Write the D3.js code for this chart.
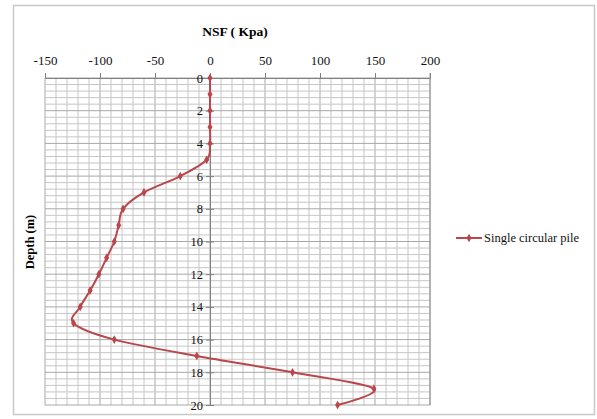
<!DOCTYPE html>
<html><head><meta charset="utf-8">
<script src="https://cdn.jsdelivr.net/npm/d3@7/dist/d3.min.js"></script>
<style>body{margin:0;background:#fff}svg{display:block}</style>
</head><body>
<script>
const depths = [0,1,2,3,4,5,6,7,8,9,10,11,12,13,14,15,16,17,18,19,20];
const nsf = [0,0,0,0,0,-3,-27,-60,-79,-83,-87,-94,-101,-109,-118,-124,-87,-12,75,149,116];
const xTicks = [-150,-100,-50,0,50,100,150,200];
const yTicks = [0,2,4,6,8,10,12,14,16,18,20];
const seriesName = "Single circular pile";

const W = 597, H = 419;
const svg = d3.select("body").append("svg").attr("width", W).attr("height", H);
const font = "Liberation Serif, serif";

svg.append("rect").attr("x",13.5).attr("y",5.5).attr("width",581).attr("height",409)
  .attr("fill","#fff").attr("stroke","#c8c8c8").attr("stroke-width",1.5);

const x = d3.scaleLinear().domain([-150,200]).range([45,430]);
const y = d3.scaleLinear().domain([0,20]).range([78,405]);

const g = svg.append("g");
const xMinor = d3.range(-150,201,10);
const yMinor = d3.range(0,20.01,0.4);
g.selectAll(".vm").data(xMinor).join("line")
  .attr("x1",d=>x(d)).attr("x2",d=>x(d)).attr("y1",y(0)).attr("y2",y(20))
  .attr("stroke", d=> d%50===0 ? "#a8a8a8" : "#c6c6c6").attr("stroke-width",1);
g.selectAll(".hm").data(yMinor).join("line")
  .attr("x1",x(-150)).attr("x2",x(200)).attr("y1",d=>y(d)).attr("y2",d=>y(d))
  .attr("stroke", d=> Math.abs(d/2-Math.round(d/2))<1e-6 ? "#a8a8a8" : "#c6c6c6").attr("stroke-width",1);

const fmt = d => String(d);
const xAxis = d3.axisTop(x).tickValues(xTicks).tickFormat(fmt).tickSize(5).tickPadding(8);
const ga = svg.append("g").attr("transform",`translate(0,${y(0)})`).call(xAxis).attr("font-family",font);
ga.select(".domain").attr("stroke","#808080");
ga.selectAll(".tick line").attr("stroke","#808080");
ga.selectAll("text").style("font-family",font).attr("font-size",13).attr("fill","#111");

const yAxis = d3.axisLeft(y).tickValues(yTicks).tickFormat(fmt).tickSize(4).tickPadding(3);
const gy = svg.append("g").attr("transform",`translate(${x(0)},0)`).call(yAxis).attr("font-family",font);
gy.select(".domain").attr("stroke","#808080");
gy.selectAll(".tick line").attr("stroke","#808080").attr("x2",4).attr("x1",-4);
gy.selectAll("text").style("font-family",font).attr("font-size",12.5).attr("fill","#111");

svg.append("line").attr("x1",x(200)).attr("x2",x(200)).attr("y1",y(0)-5).attr("y2",y(20)).attr("stroke","#909090");

svg.append("text").attr("x",235).attr("y",36).attr("text-anchor","middle")
  .style("font-family",font).attr("font-size",13.5).attr("font-weight","bold").text("NSF ( Kpa)");
svg.append("text").attr("transform","translate(34,242) rotate(-90)").attr("text-anchor","middle")
  .style("font-family",font).attr("font-size",12.5).attr("font-weight","bold").text("Depth (m)");

const color = "#b9474b";
const pts = depths.map((d,i)=>[nsf[i], d]);
const line = d3.line().x(d=>x(d[0])).y(d=>y(d[1])).curve(d3.curveCatmullRom.alpha(0));
svg.append("path").datum(pts).attr("d",line).attr("fill","none").attr("stroke",color).attr("stroke-width",2);
const diamond = d3.symbol().type(d3.symbolDiamond).size(22);
svg.selectAll(".pt").data(pts).join("path")
  .attr("transform",d=>`translate(${x(d[0])},${y(d[1])})`).attr("d",diamond).attr("fill",color);

const lg = svg.append("g").attr("transform","translate(456,238)");
lg.append("line").attr("x1",0).attr("x2",26).attr("y1",0).attr("y2",0).attr("stroke",color).attr("stroke-width",2);
lg.append("path").attr("transform","translate(13,0)").attr("d",diamond).attr("fill",color);
lg.append("text").attr("x",28).attr("y",4).style("font-family",font).attr("font-size",12.5).attr("fill","#111").text(seriesName);
</script>
</body></html>
